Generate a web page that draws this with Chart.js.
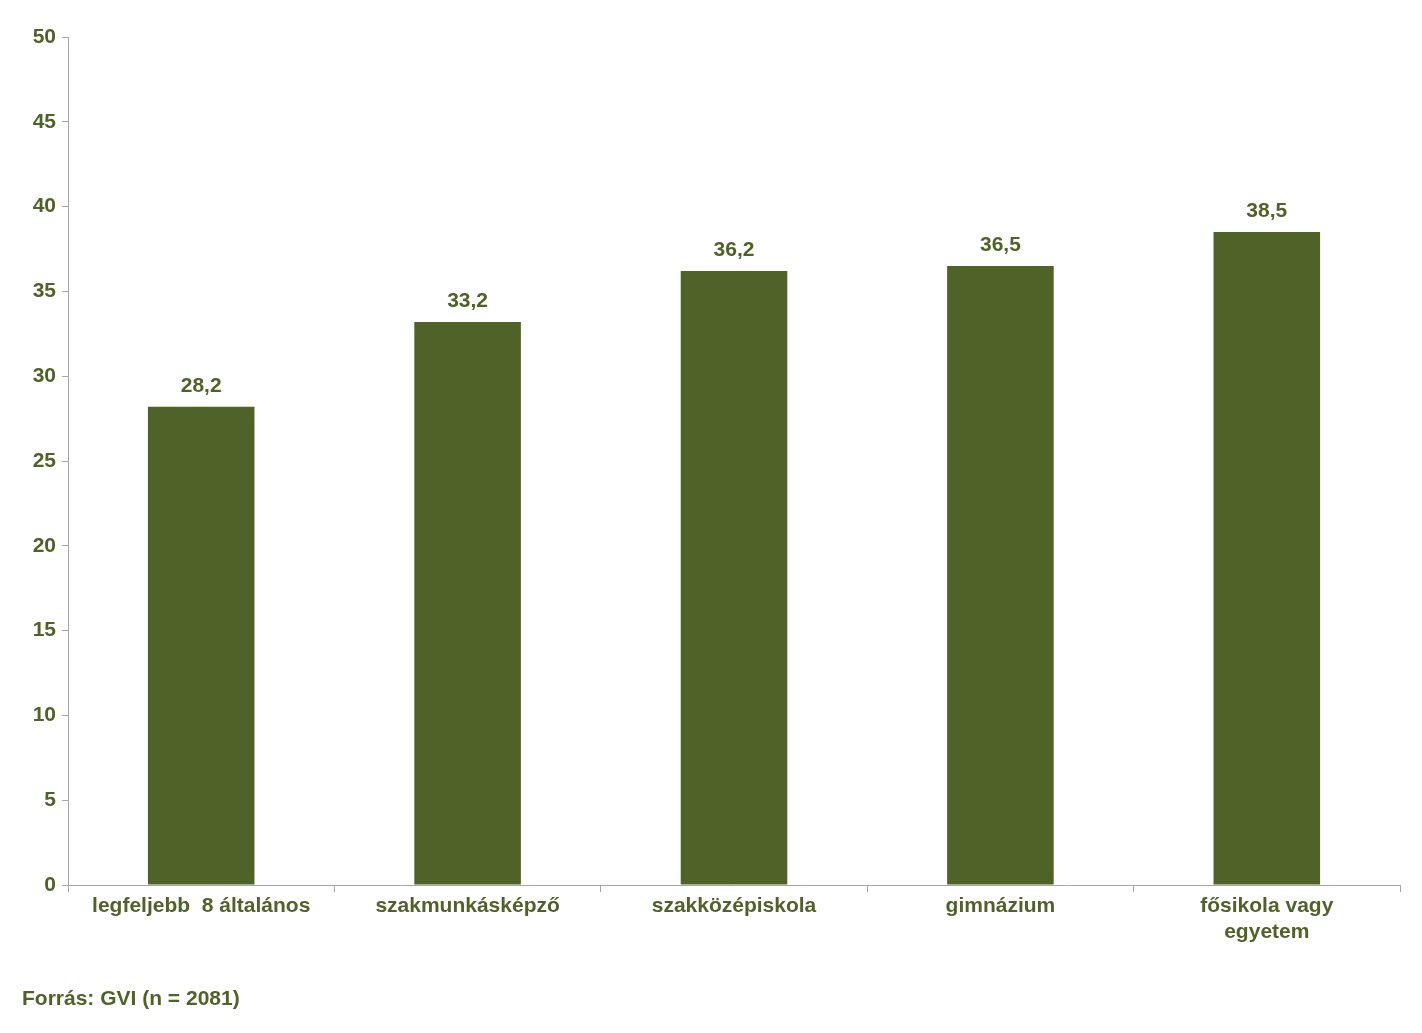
<!DOCTYPE html>
<html>
<head>
<meta charset="utf-8">
<script src="https://cdn.jsdelivr.net/npm/chart.js@4"></script>
<style>
  html, body { margin: 0; padding: 0; background: #fff; }
  #wrap { position: relative; width: 1422px; height: 1033px; }
  #note { position: absolute; left: 22px; top: 986px; font: bold 21px "Liberation Sans", Arial, sans-serif; color: #4F6228; }
</style>
</head>
<body>
<div id="wrap">
  <canvas id="chart" width="1422" height="1033"></canvas>
  <div id="note">Forrás: GVI (n = 2081)</div>
</div>
<script>
// adatok
const categories = ['legfeljebb  8 általános', 'szakmunkásképző', 'szakközépiskola', 'gimnázium', ['fősikola vagy', 'egyetem']];
const values = [28.2, 33.2, 36.2, 36.5, 38.5];
const yTicks = [0, 5, 10, 15, 20, 25, 30, 35, 40, 45, 50];

const green = '#4F6228';
const font = { family: '"Liberation Sans", Arial, sans-serif', size: 21, weight: 'bold' };

// értékcímkék a oszlopok fölé
const valueLabels = {
  id: 'valueLabels',
  afterDatasetsDraw(chart) {
    const ctx = chart.ctx;
    ctx.save();
    ctx.font = 'bold 21px "Liberation Sans", Arial, sans-serif';
    ctx.fillStyle = green;
    ctx.textAlign = 'center';
    ctx.textBaseline = 'bottom';
    chart.getDatasetMeta(0).data.forEach((bar, i) => {
      ctx.fillText(values[i].toFixed(1).replace('.', ','), bar.x, bar.y - 10);
    });
    ctx.restore();
  }
};

new Chart(document.getElementById('chart'), {
  type: 'bar',
  data: {
    labels: categories,
    datasets: [{
      data: values,
      backgroundColor: green,
      barPercentage: 0.4,
      categoryPercentage: 1
    }]
  },
  options: {
    responsive: false,
    animation: false,
    layout: { padding: { top: 37, right: 22, left: 0, bottom: 0 } },
    plugins: { legend: { display: false }, tooltip: { enabled: false } },
    scales: {
      x: {
        grid: { offset: true, drawOnChartArea: false, color: '#A6A6A6', tickLength: 7 },
        border: { color: '#A6A6A6' },
        ticks: { color: green, font: font, maxRotation: 0, autoSkip: false, padding: 2 },
        afterFit(scale) { scale.height = 148; }
      },
      y: {
        min: 0, max: 50,
        afterBuildTicks(scale) { scale.ticks = yTicks.map(v => ({ value: v })); },
        grid: { drawOnChartArea: false, color: '#A6A6A6', tickLength: 6 },
        border: { color: '#A6A6A6' },
        ticks: { color: green, font: font, padding: 6 },
        afterFit(scale) { scale.width = 68; }
      }
    }
  },
  plugins: [valueLabels]
});
</script>
</body>
</html>
